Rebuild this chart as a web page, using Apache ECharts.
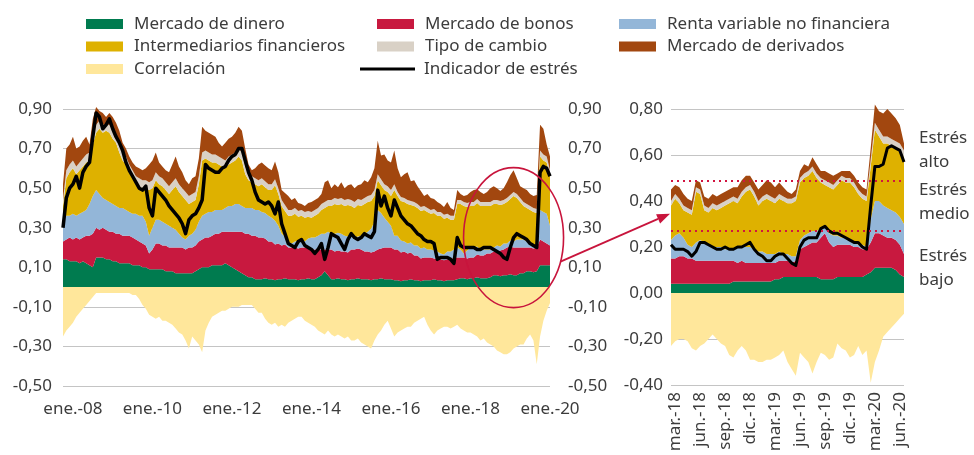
<!DOCTYPE html>
<html><head><meta charset="utf-8">
<script src="https://cdn.jsdelivr.net/npm/echarts@6/dist/echarts.min.js"></script>
<style>html,body{margin:0;padding:0;background:#fff}#c{width:974px;height:455px}</style>
</head><body><div id="c"></div><script>
// ---------- tick labels ----------
const leftTickLabels = ['ene.-08','ene.-10','ene.-12','ene.-14','ene.-16','ene.-18','ene.-20'];
const rightTickLabels = ['mar.-18','jun.-18','sep.-18','dic.-18','mar.-19','jun.-19','sep.-19','dic.-19','mar.-20','jun.-20'];
const stressThresholds = [0.49, 0.27];
const seriesNames = ['Mercado de dinero','Mercado de bonos','Renta variable no financiera','Intermediarios financieros','Tipo de cambio','Mercado de derivados','Correlación','Indicador de estrés'];

// ---------- categories ----------
const monthAbbr = ['ene.','feb.','mar.','abr.','may.','jun.','jul.','ago.','sep.','oct.','nov.','dic.'];
function mLabel(y, m){ return monthAbbr[m] + '-' + String(y % 100).padStart(2,'0'); }
const leftCats = [];
for (let k = 0; k < 148; k++) { const t = 2007*12 + 9 + k; leftCats.push(mLabel(Math.floor(t/12), t % 12)); }
const rightCats = [];
for (let j = 0; j < 57; j++) {
  if (j % 2 === 1) { const t = 2018*12 + 1 + (j+1)/2; rightCats.push(mLabel(Math.floor(t/12), t % 12)); }
  else { const t = 2018*12 + 1 + j/2; rightCats.push('15 ' + mLabel(Math.floor(t/12), t % 12)); }
}

// ---------- left panel values (monthly) ----------
const lMoney = [
0.14,0.14,0.13,0.13,0.13,0.12,0.13,0.12,0.11,0.10,
0.15,0.15,0.15,0.14,0.14,0.13,0.13,0.12,0.12,0.12,
0.12,0.11,0.11,0.11,0.10,0.10,0.09,0.09,0.09,0.09,
0.09,0.08,0.08,0.08,0.07,0.07,0.07,0.07,0.07,0.07,
0.08,0.09,0.10,0.10,0.10,0.11,0.11,0.11,0.11,0.12,
0.11,0.10,0.09,0.08,0.07,0.06,0.05,0.05,0.04,0.04,
0.04,0.045,0.04,0.04,0.035,0.04,0.04,0.045,0.04,0.04,
0.04,0.035,0.04,0.04,0.045,0.04,0.04,0.05,0.06,0.08,
0.06,0.04,0.04,0.045,0.04,0.04,0.035,0.04,0.04,0.045,
0.04,0.04,0.04,0.035,0.04,0.04,0.045,0.04,0.04,0.04,
0.035,0.035,0.03,0.035,0.035,0.04,0.035,0.035,0.03,0.035,
0.035,0.035,0.04,0.035,0.035,0.03,0.035,0.035,0.035,0.04,
0.045,0.045,0.04,0.045,0.045,0.05,0.045,0.045,0.045,0.05,
0.06,0.06,0.055,0.06,0.06,0.065,0.06,0.06,0.07,0.07,
0.08,0.08,0.075,0.08,0.11,0.11,0.11,0.11];
const lBonds = [
0.09,0.10,0.12,0.11,0.12,0.12,0.12,0.14,0.15,0.17,
0.15,0.14,0.15,0.15,0.14,0.15,0.14,0.15,0.14,0.14,
0.14,0.14,0.13,0.12,0.12,0.11,0.08,0.10,0.13,0.13,
0.12,0.13,0.12,0.12,0.13,0.13,0.13,0.12,0.13,0.13,
0.13,0.14,0.14,0.15,0.15,0.15,0.16,0.16,0.17,0.16,
0.17,0.18,0.19,0.20,0.21,0.21,0.22,0.21,0.22,0.21,
0.21,0.20,0.19,0.19,0.18,0.18,0.17,0.17,0.16,0.16,
0.16,0.16,0.16,0.16,0.16,0.15,0.15,0.14,0.13,0.11,
0.13,0.15,0.14,0.14,0.14,0.14,0.14,0.15,0.15,0.15,
0.15,0.14,0.14,0.14,0.14,0.15,0.15,0.16,0.16,0.16,
0.155,0.155,0.145,0.145,0.135,0.135,0.125,0.125,0.115,0.115,
0.115,0.115,0.105,0.105,0.105,0.105,0.105,0.105,0.115,0.11,
0.105,0.105,0.105,0.105,0.105,0.115,0.115,0.115,0.125,0.12,
0.12,0.12,0.13,0.13,0.14,0.14,0.14,0.14,0.13,0.13,
0.12,0.12,0.12,0.12,0.13,0.12,0.11,0.10];
const lEquity = [
0.12,0.12,0.11,0.13,0.11,0.13,0.13,0.13,0.16,0.19,
0.19,0.18,0.15,0.15,0.15,0.14,0.14,0.13,0.14,0.13,
0.12,0.12,0.13,0.13,0.14,0.12,0.09,0.11,0.12,0.12,
0.12,0.11,0.11,0.10,0.09,0.07,0.05,0.05,0.06,0.07,
0.08,0.10,0.12,0.12,0.13,0.12,0.12,0.12,0.11,0.12,
0.13,0.13,0.14,0.14,0.13,0.13,0.13,0.14,0.13,0.14,
0.13,0.13,0.13,0.12,0.12,0.09,0.06,0.04,0.03,0.02,
0.03,0.04,0.04,0.03,0.04,0.06,0.06,0.07,0.08,0.08,
0.09,0.08,0.09,0.09,0.09,0.08,0.08,0.07,0.06,0.06,
0.07,0.09,0.10,0.12,0.15,0.20,0.18,0.15,0.13,0.11,
0.07,0.07,0.06,0.05,0.05,0.05,0.05,0.05,0.05,0.05,
0.04,0.04,0.04,0.04,0.03,0.03,0.04,0.04,0.04,0.05,
0.04,0.02,0.04,0.05,0.05,0.04,0.03,0.03,0.02,0.02,
0.02,0.03,0.02,0.03,0.02,0.03,0.03,0.04,0.04,0.04,
0.03,0.02,0.015,0.015,0.15,0.15,0.15,0.10];
const lInterm = [
0.06,0.19,0.22,0.23,0.21,0.22,0.23,0.24,0.22,0.26,
0.29,0.33,0.33,0.35,0.35,0.33,0.32,0.28,0.24,0.23,
0.20,0.18,0.15,0.15,0.14,0.17,0.23,0.20,0.20,0.18,
0.18,0.17,0.16,0.19,0.22,0.21,0.21,0.20,0.16,0.16,
0.15,0.19,0.28,0.28,0.26,0.25,0.24,0.23,0.22,0.20,
0.21,0.22,0.22,0.24,0.23,0.17,0.14,0.13,0.13,0.12,
0.14,0.13,0.13,0.14,0.18,0.16,0.14,0.13,0.13,0.14,
0.14,0.12,0.12,0.12,0.11,0.10,0.11,0.11,0.12,0.13,
0.13,0.14,0.15,0.14,0.15,0.15,0.16,0.15,0.15,0.16,
0.15,0.15,0.15,0.14,0.13,0.15,0.14,0.14,0.15,0.15,
0.23,0.20,0.20,0.20,0.20,0.19,0.20,0.19,0.19,0.19,
0.19,0.18,0.19,0.18,0.19,0.18,0.17,0.16,0.15,0.22,
0.23,0.24,0.22,0.21,0.21,0.22,0.22,0.22,0.22,0.22,
0.22,0.21,0.21,0.20,0.21,0.21,0.23,0.21,0.19,0.17,
0.17,0.17,0.17,0.16,0.27,0.26,0.26,0.25];
const lFx = [
0.03,0.04,0.04,0.04,0.04,0.04,0.04,0.04,0.04,0.04,
0.04,0.04,0.04,0.03,0.04,0.04,0.04,0.04,0.04,0.04,
0.04,0.04,0.04,0.04,0.04,0.04,0.04,0.04,0.04,0.04,
0.04,0.04,0.04,0.04,0.04,0.04,0.04,0.04,0.04,0.04,
0.04,0.04,0.04,0.04,0.04,0.04,0.04,0.04,0.04,0.04,
0.04,0.04,0.04,0.04,0.04,0.04,0.03,0.03,0.03,0.03,
0.03,0.03,0.03,0.03,0.03,0.03,0.03,0.03,0.03,0.03,
0.03,0.03,0.03,0.03,0.03,0.03,0.03,0.03,0.03,0.03,
0.03,0.03,0.03,0.03,0.03,0.03,0.03,0.03,0.03,0.03,
0.03,0.03,0.03,0.03,0.03,0.03,0.03,0.03,0.03,0.03,
0.03,0.02,0.02,0.02,0.02,0.02,0.02,0.02,0.02,0.02,
0.02,0.02,0.02,0.02,0.02,0.02,0.02,0.02,0.02,0.02,
0.02,0.02,0.02,0.02,0.02,0.02,0.02,0.02,0.02,0.02,
0.02,0.02,0.02,0.02,0.02,0.02,0.02,0.02,0.02,0.02,
0.02,0.02,0.02,0.02,0.03,0.03,0.03,0.03];
const lDeriv = [
0.08,0.11,0.10,0.12,0.09,0.08,0.09,0.09,0.04,0.09,
0.09,0.05,0.06,0.04,0.06,0.07,0.06,0.07,0.05,0.04,
0.04,0.04,0.05,0.05,0.05,0.06,0.09,0.10,0.10,0.07,
0.06,0.06,0.07,0.09,0.11,0.09,0.08,0.06,0.06,0.08,
0.08,0.09,0.13,0.10,0.10,0.10,0.09,0.07,0.06,0.09,
0.09,0.09,0.10,0.11,0.11,0.09,0.05,0.03,0.05,0.08,
0.08,0.08,0.08,0.07,0.09,0.08,0.05,0.06,0.07,0.05,
0.05,0.04,0.03,0.03,0.04,0.05,0.05,0.05,0.05,0.10,
0.10,0.06,0.07,0.06,0.08,0.06,0.07,0.08,0.07,0.07,
0.08,0.09,0.07,0.09,0.11,0.17,0.12,0.15,0.13,0.14,
0.17,0.12,0.10,0.12,0.14,0.10,0.11,0.09,0.08,0.05,
0.07,0.06,0.05,0.05,0.04,0.04,0.06,0.04,0.03,0.05,
0.03,0.03,0.04,0.05,0.06,0.05,0.05,0.04,0.05,0.07,
0.07,0.06,0.05,0.06,0.08,0.10,0.11,0.08,0.06,0.07,
0.07,0.06,0.06,0.07,0.13,0.13,0.06,0.07];
const lCorr = [
-0.25,-0.22,-0.20,-0.18,-0.15,-0.13,-0.11,-0.09,-0.07,-0.05,
-0.03,-0.03,-0.03,-0.03,-0.03,-0.03,-0.03,-0.03,-0.03,-0.03,
-0.03,-0.04,-0.04,-0.06,-0.09,-0.11,-0.14,-0.15,-0.16,-0.15,
-0.17,-0.17,-0.18,-0.19,-0.21,-0.23,-0.24,-0.27,-0.31,-0.25,
-0.27,-0.29,-0.33,-0.22,-0.18,-0.15,-0.14,-0.13,-0.12,-0.12,
-0.11,-0.10,-0.10,-0.10,-0.09,-0.09,-0.09,-0.09,-0.11,-0.13,
-0.13,-0.16,-0.18,-0.19,-0.18,-0.20,-0.19,-0.20,-0.18,-0.17,
-0.16,-0.15,-0.15,-0.17,-0.18,-0.19,-0.20,-0.22,-0.23,-0.24,
-0.22,-0.24,-0.25,-0.24,-0.25,-0.26,-0.25,-0.27,-0.27,-0.26,
-0.28,-0.29,-0.30,-0.31,-0.27,-0.24,-0.22,-0.19,-0.17,-0.21,
-0.25,-0.23,-0.22,-0.21,-0.20,-0.20,-0.18,-0.17,-0.16,-0.15,
-0.19,-0.22,-0.24,-0.22,-0.21,-0.20,-0.20,-0.21,-0.20,-0.19,
-0.21,-0.22,-0.23,-0.23,-0.24,-0.25,-0.27,-0.26,-0.28,-0.29,
-0.30,-0.32,-0.33,-0.34,-0.34,-0.33,-0.31,-0.30,-0.29,-0.29,
-0.26,-0.24,-0.27,-0.39,-0.25,-0.17,-0.12,-0.08];
const lIndex = [
0.30,0.45,0.50,0.52,0.56,0.50,0.58,0.61,0.63,0.76,
0.88,0.86,0.80,0.82,0.85,0.80,0.76,0.73,0.69,0.63,
0.59,0.56,0.53,0.50,0.49,0.51,0.40,0.36,0.50,0.48,
0.46,0.44,0.41,0.39,0.37,0.35,0.32,0.27,0.34,0.36,
0.37,0.40,0.44,0.62,0.60,0.59,0.58,0.58,0.60,0.61,
0.64,0.66,0.67,0.70,0.70,0.64,0.58,0.54,0.48,0.44,
0.43,0.42,0.43,0.41,0.37,0.43,0.32,0.27,0.22,0.21,
0.20,0.23,0.24,0.21,0.20,0.19,0.17,0.19,0.22,0.14,
0.20,0.27,0.26,0.25,0.22,0.19,0.24,0.27,0.25,0.24,
0.25,0.27,0.26,0.25,0.28,0.49,0.41,0.46,0.40,0.36,
0.44,0.40,0.36,0.34,0.32,0.31,0.29,0.27,0.26,0.24,
0.23,0.23,0.22,0.14,0.15,0.15,0.15,0.14,0.12,0.25,
0.21,0.20,0.20,0.20,0.20,0.19,0.19,0.20,0.20,0.20,
0.19,0.18,0.17,0.15,0.14,0.20,0.25,0.27,0.26,0.25,
0.24,0.22,0.21,0.20,0.58,0.61,0.60,0.56];

// ---------- right panel values (half-monthly) ----------
const rMoney = [
0.04,0.04,0.04,0.04,0.04,0.04,0.04,0.04,0.04,0.04,
0.04,0.04,0.04,0.04,0.04,0.05,0.05,0.05,0.05,0.05,
0.05,0.05,0.05,0.05,0.05,0.06,0.06,0.07,0.07,0.07,
0.07,0.07,0.07,0.07,0.07,0.07,0.06,0.06,0.06,0.06,
0.07,0.07,0.07,0.07,0.07,0.07,0.07,0.08,0.09,0.11,
0.11,0.11,0.11,0.11,0.10,0.08,0.07];
const rBonds = [
0.11,0.11,0.12,0.12,0.11,0.11,0.10,0.10,0.10,0.10,
0.10,0.10,0.10,0.10,0.10,0.09,0.08,0.09,0.08,0.08,
0.08,0.08,0.08,0.08,0.08,0.07,0.08,0.07,0.07,0.06,
0.07,0.12,0.13,0.14,0.15,0.15,0.18,0.20,0.16,0.14,
0.14,0.14,0.14,0.14,0.13,0.13,0.12,0.11,0.13,0.15,
0.15,0.14,0.13,0.13,0.13,0.13,0.10];
const rEquity = [
0.08,0.10,0.10,0.08,0.06,0.05,0.08,0.09,0.08,0.07,
0.06,0.06,0.06,0.05,0.05,0.05,0.07,0.06,0.07,0.07,
0.06,0.05,0.05,0.04,0.04,0.04,0.04,0.03,0.03,0.03,
0.02,0.04,0.05,0.05,0.05,0.05,0.04,0.03,0.04,0.05,
0.04,0.03,0.03,0.02,0.02,0.01,0.02,0.01,0.10,0.14,
0.14,0.13,0.13,0.12,0.12,0.12,0.13];
const rInterm = [
0.15,0.16,0.13,0.12,0.14,0.14,0.22,0.20,0.14,0.14,
0.17,0.16,0.17,0.19,0.20,0.21,0.19,0.22,0.24,0.25,
0.23,0.20,0.22,0.24,0.23,0.22,0.23,0.23,0.22,0.23,
0.24,0.25,0.25,0.25,0.26,0.23,0.20,0.18,0.20,0.20,
0.22,0.25,0.24,0.25,0.24,0.22,0.20,0.20,0.23,0.31,
0.28,0.27,0.28,0.28,0.28,0.29,0.29];
const rFx = [
0.02,0.02,0.02,0.02,0.02,0.02,0.02,0.02,0.02,0.02,
0.02,0.02,0.02,0.02,0.02,0.02,0.02,0.02,0.02,0.02,
0.02,0.02,0.02,0.02,0.02,0.02,0.02,0.02,0.02,0.02,
0.02,0.02,0.02,0.02,0.02,0.02,0.02,0.02,0.02,0.02,
0.02,0.02,0.02,0.02,0.02,0.02,0.02,0.02,0.03,0.03,
0.03,0.03,0.03,0.03,0.03,0.03,0.03];
const rDeriv = [
0.05,0.04,0.05,0.05,0.04,0.04,0.03,0.03,0.04,0.04,
0.04,0.04,0.04,0.04,0.04,0.04,0.05,0.05,0.05,0.04,
0.04,0.05,0.05,0.06,0.06,0.05,0.05,0.04,0.03,0.02,
0.03,0.03,0.04,0.02,0.04,0.04,0.03,0.04,0.04,0.04,
0.03,0.02,0.03,0.03,0.03,0.03,0.03,0.03,0.05,0.08,
0.08,0.10,0.12,0.11,0.10,0.08,0.03];
const rCorr = [
-0.23,-0.21,-0.20,-0.20,-0.21,-0.24,-0.25,-0.23,-0.22,-0.20,
-0.18,-0.20,-0.22,-0.23,-0.27,-0.28,-0.25,-0.23,-0.25,-0.29,
-0.29,-0.30,-0.30,-0.29,-0.29,-0.28,-0.27,-0.25,-0.30,-0.33,
-0.36,-0.26,-0.28,-0.30,-0.35,-0.30,-0.26,-0.27,-0.29,-0.28,
-0.22,-0.24,-0.25,-0.28,-0.27,-0.23,-0.27,-0.25,-0.39,-0.30,
-0.25,-0.19,-0.17,-0.15,-0.13,-0.11,-0.09];
const rIndex = [
0.21,0.19,0.19,0.19,0.18,0.16,0.18,0.22,0.22,0.21,
0.20,0.19,0.19,0.20,0.19,0.19,0.20,0.20,0.21,0.22,
0.19,0.17,0.16,0.14,0.14,0.16,0.17,0.17,0.15,0.13,
0.12,0.20,0.23,0.24,0.24,0.24,0.28,0.29,0.27,0.26,
0.26,0.25,0.24,0.23,0.22,0.22,0.20,0.19,0.38,0.55,
0.55,0.56,0.63,0.64,0.63,0.62,0.57];

// ---------- styling ----------
const FONT = 'Noto Sans';
const TXT = '#3c3c3c';
const colors = ['#007B4F','#C8193F','#93B6D8','#DEB100','#D9D1C6','#A2470F','#FFE79B','#000000'];
const fmt = v => (Math.round(v*100)/100).toFixed(2).replace('.', ',');

function buildSeries(xi, yi, stackName, vals, lineW) {
  const out = [];
  for (let s = 0; s < 6; s++) {
    out.push({
      name: seriesNames[s], type: 'line', xAxisIndex: xi, yAxisIndex: yi,
      stack: stackName, data: vals[s], symbol: 'none', clip: false,
      color: colors[s], lineStyle: { width: 0 }, areaStyle: { color: colors[s], opacity: 1 },
      z: 2, silent: true
    });
  }
  out.push({
    name: seriesNames[6], type: 'line', xAxisIndex: xi, yAxisIndex: yi,
    data: vals[6], symbol: 'none', clip: false, color: colors[6],
    lineStyle: { width: 0 }, areaStyle: { color: colors[6], opacity: 1 }, z: 2, silent: true
  });
  out.push({
    name: seriesNames[7], type: 'line', xAxisIndex: xi, yAxisIndex: yi,
    data: vals[7], symbol: 'none', clip: false, color: colors[7],
    lineStyle: { width: lineW, color: '#000', join: 'round' }, z: 4, silent: true
  });
  return out;
}

const leftSeries = buildSeries(0, 0, 'L', [lMoney,lBonds,lEquity,lInterm,lFx,lDeriv,lCorr,lIndex], 3.5);
const rightSeries = buildSeries(1, 2, 'R', [rMoney,rBonds,rEquity,rInterm,rFx,rDeriv,rCorr,rIndex], 3);
rightSeries.push({
  name: 'umbrales', type: 'line', xAxisIndex: 1, yAxisIndex: 2, data: [], z: 3, silent: true,
  markLine: {
    silent: true, symbol: ['none','none'], label: { show: false },
    lineStyle: { color: '#D2143F', type: [2, 4], width: 2 },
    data: stressThresholds.map(v => ({ yAxis: v }))
  }
});

const axisText = { fontFamily: FONT, fontSize: 17, color: TXT };
const legendBase = {
  orient: 'vertical', icon: 'rect', itemWidth: 37, itemHeight: 10, itemGap: 2.5, selectedMode: false, padding: 0,
  textStyle: { fontFamily: FONT, fontSize: 17, color: TXT, lineHeight: 20, padding: [0,0,0,6] }
};

const option = {
  animation: false,
  backgroundColor: '#fff',
  textStyle: { fontFamily: FONT },
  legend: [
    Object.assign({}, legendBase, { left: 86, top: 14, data: [seriesNames[0], seriesNames[3], seriesNames[6]] }),
    Object.assign({}, legendBase, { left: 377, top: 14, data: [seriesNames[1], seriesNames[4]] }),
    Object.assign({}, legendBase, { left: 619, top: 14, data: [seriesNames[2], seriesNames[5]] }),
    Object.assign({}, legendBase, { left: 360, top: 59, itemWidth: 55, itemHeight: 3,
      textStyle: { fontFamily: FONT, fontSize: 17, color: TXT, lineHeight: 20, padding: [0,0,0,4] },
      data: [seriesNames[7]] })
  ],
  grid: [
    { left: 63, top: 109, width: 487, height: 277 },
    { left: 671, top: 109, width: 233, height: 276 }
  ],
  xAxis: [
    { gridIndex: 0, type: 'category', data: leftCats, boundaryGap: false,
      axisLine: { show: false }, axisTick: { show: false }, splitLine: { show: false },
      axisLabel: Object.assign({}, axisText, { margin: 15,
        interval: (idx, val) => leftTickLabels.includes(val) }) },
    { gridIndex: 1, type: 'category', data: rightCats, boundaryGap: false,
      axisLine: { show: false }, axisTick: { show: false }, splitLine: { show: false },
      axisLabel: Object.assign({}, axisText, { margin: 7, rotate: 90,
        interval: (idx, val) => rightTickLabels.includes(val) }) }
  ],
  yAxis: [
    { gridIndex: 0, type: 'value', min: -0.5, max: 0.9, interval: 0.2, position: 'left',
      axisLine: { show: false }, axisTick: { show: false },
      splitLine: { show: true, lineStyle: { color: '#c4c4c4', width: 1 } },
      axisLabel: Object.assign({}, axisText, { margin: 11, formatter: fmt }) },
    { gridIndex: 0, type: 'value', min: -0.5, max: 0.9, interval: 0.2, position: 'right',
      axisLine: { show: false }, axisTick: { show: false }, splitLine: { show: false },
      axisLabel: Object.assign({}, axisText, { margin: 18, formatter: fmt }) },
    { gridIndex: 1, type: 'value', min: -0.4, max: 0.8, interval: 0.2, position: 'left',
      axisLine: { show: false }, axisTick: { show: false },
      splitLine: { show: true, lineStyle: { color: '#c4c4c4', width: 1 } },
      axisLabel: Object.assign({}, axisText, { margin: 8, formatter: fmt }) }
  ],
  series: leftSeries.concat(rightSeries)
};

const chart = echarts.init(document.getElementById('c'), null, { renderer: 'canvas' });
chart.setOption(option);

// ---------- annotations anchored to data coordinates ----------
const px = (xi, yi, pt) => chart.convertToPixel({ xAxisIndex: xi, yAxisIndex: yi }, pt);
const RED = '#C8143C';
const ctr = px(0, 0, [leftCats[136], 0.25]);
const erx = 50, ery = 70, th = 0.35;
const a0 = [ctr[0] + erx*Math.cos(th), ctr[1] + ery*Math.sin(th)];
const endP = px(1, 2, [rightCats[0], 0.345]);
const a1 = [endP[0] - 1, endP[1]];
const dx = a1[0]-a0[0], dy = a1[1]-a0[1], L = Math.hypot(dx, dy);
const ux = dx/L, uy = dy/L, nx = -uy, ny = ux;
const hl = 13, hw = 5;
const base = [a1[0]-ux*hl, a1[1]-uy*hl];
const tA = px(1, 2, [rightCats[56], 0.62]);
const tB = px(1, 2, [rightCats[56], 0.395]);
const tC = px(1, 2, [rightCats[56], 0.11]);
const textStyleG = (t) => ({ text: t, fontFamily: FONT, fontSize: 17, lineHeight: 24, fill: TXT, verticalAlign: 'middle', align: 'left' });

chart.setOption({ graphic: [
  { type: 'ellipse', shape: { cx: ctr[0], cy: ctr[1], rx: erx, ry: ery }, style: { fill: 'none', stroke: RED, lineWidth: 1.6 }, z: 100 },
  { type: 'line', shape: { x1: a0[0], y1: a0[1], x2: base[0], y2: base[1] }, style: { stroke: RED, lineWidth: 1.8 }, z: 100 },
  { type: 'polygon', shape: { points: [a1, [base[0]+nx*hw, base[1]+ny*hw], [base[0]-nx*hw, base[1]-ny*hw]] }, style: { fill: RED }, z: 100 },
  { type: 'text', x: tA[0] + 15, y: tA[1], style: textStyleG('Estrés\nalto'), z: 100 },
  { type: 'text', x: tB[0] + 15, y: tB[1], style: textStyleG('Estrés\nmedio'), z: 100 },
  { type: 'text', x: tC[0] + 15, y: tC[1], style: textStyleG('Estrés\nbajo'), z: 100 }
]});
</script></body></html>
